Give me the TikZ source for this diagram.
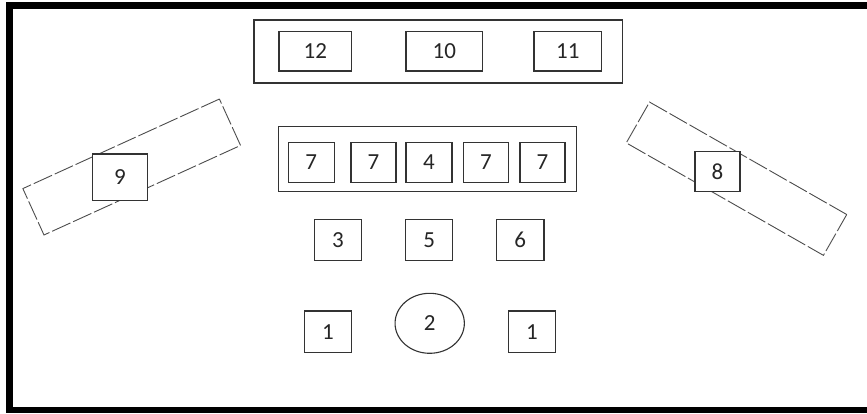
\documentclass[tikz,border=0pt]{standalone}
\usepackage{fontspec}
\setmainfont{Carlito}
\usetikzlibrary{shapes.geometric}
\begin{document}
\begin{tikzpicture}[x=1pt,y=-1pt,
  box/.style={draw=black!80, line width=1.1pt, fill=white, inner sep=0pt,
    font=\fontsize{23}{25}\selectfont, text=black!85},
  group/.style={draw=black!80, line width=1.1pt, inner sep=0pt},
  zone/.style={draw=black!70, line width=0.9pt, dash pattern=on 20pt off 3pt, inner sep=0pt},
  frame/.style={fill=black}]
\useasboundingbox (0,0) rectangle (867,413);
% outer frame (open on the right)
\fill[frame] (6,2) rectangle (867,9);
\fill[frame] (6,2) rectangle (13,413);
\fill[frame] (6,407) rectangle (867,413);
% groups
\node[group, minimum width=368.7pt, minimum height=63pt] (top) at (438.3,51.5) {};
\node[group, minimum width=298.4pt, minimum height=65pt] (mid) at (427.5,159.2) {};
% dashed zones
\node[zone, minimum width=216pt, minimum height=51pt, rotate=24.5] (zl) at (131.7,167) {};
\node[zone, minimum width=227pt, minimum height=47pt, rotate=-29.7] (zr) at (736.5,178.7) {};
% top row
\node[box, minimum width=72.7pt, minimum height=39.3pt] (b12) at (315.3,51.3) {12};
\node[box, minimum width=76.7pt, minimum height=39.3pt] (b10) at (444.3,51.3) {10};
\node[box, minimum width=67.7pt, minimum height=39.3pt] (b11) at (567.8,51.3) {11};
% middle row
\node[box, minimum width=45.7pt, minimum height=39.6pt] (b7a) at (311.2,162.5) {7};
\node[box, minimum width=45pt, minimum height=39.6pt] (b7b) at (373.5,162.5) {7};
\node[box, minimum width=46pt, minimum height=39.6pt] (b4) at (429,162.5) {4};
\node[box, minimum width=45.4pt, minimum height=39.6pt] (b7c) at (486,162.5) {7};
\node[box, minimum width=45pt, minimum height=39.6pt] (b7d) at (542.5,162.5) {7};
% third row
\node[box, minimum width=47.4pt, minimum height=40.7pt] (b3) at (338,239.7) {3};
\node[box, minimum width=47pt, minimum height=40.7pt] (b5) at (429.2,239.7) {5};
\node[box, minimum width=47.3pt, minimum height=40.7pt] (b6) at (520.3,239.7) {6};
% bottom row
\node[box, minimum width=47.4pt, minimum height=41.7pt] (b1l) at (328,331.8) {1};
\node[box, ellipse, minimum width=69.3pt, minimum height=60pt] (b2) at (429.7,323.3) {2};
\node[box, minimum width=47.4pt, minimum height=41.7pt] (b1r) at (532,331.8) {1};
% side boxes
\node[box, minimum width=55.4pt, minimum height=46.7pt] (b9) at (120,177.3) {9};
\node[box, minimum width=45pt, minimum height=40pt] (b8) at (717.5,171.7) {8};
\end{tikzpicture}
\end{document}
